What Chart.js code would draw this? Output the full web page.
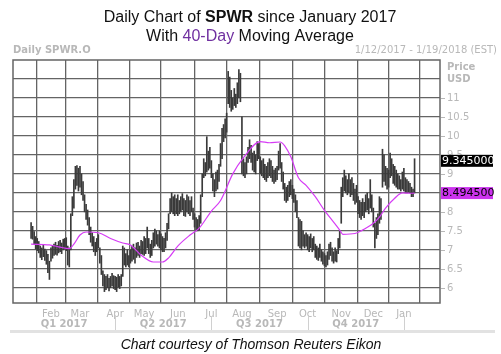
<!DOCTYPE html>
<html lang="en">
<head>
    <meta charset="UTF-8">
    <title>SPWR Daily Chart</title>
    <script src="https://cdn.jsdelivr.net/npm/chart.js"></script>
    <style>
        body { margin: 0; background: #fff; }
        #wrap { width: 501px; height: 354px; position: relative; }
    </style>
</head>
<body>
    <div id="wrap"><canvas id="spwrChart"></canvas></div>

    <script>
        // Month gridlines: trading-day index of the first session of each month (day 0 = 1/12/2017)
        const monthStarts = [13, 32, 55, 74, 96, 118, 138, 161, 181, 203, 224, 244];
        const monthLabels = ["Feb", "Mar", "Apr", "May", "Jun", "Jul", "Aug", "Sep", "Oct", "Nov", "Dec", "Jan"];
        const quarterBounds = [0, 55, 118, 181, 244];
        const quarterLabels = ["Q1 2017", "Q2 2017", "Q3 2017", "Q4 2017"];
        const priceTicks = [6, 6.5, 7, 7.5, 8, 8.5, 9, 9.5, 10, 10.5, 11];

        // Daily high / low, one entry per session
        const highs = [
            7.72, 7.62, 7.48, 7.35, 7.30, 7.22, 7.10, 7.05, 7.12, 7.02, 6.98, 6.88, 6.70,
            7.05, 7.10, 7.15, 7.20, 7.12, 7.22, 7.25, 7.18, 7.28, 7.30, 7.32, 7.10, 7.05, 7.95, 8.40, 8.85, 9.20, 9.22, 9.15,
            9.20, 9.00, 8.80, 8.45, 8.20, 8.05, 7.85, 7.60, 7.45, 7.35, 7.20, 7.30, 7.40, 7.05, 6.85, 6.45, 6.35, 6.30, 6.35, 6.25, 6.30, 6.38, 6.32,
            6.30, 6.28, 6.35, 6.30, 6.35, 7.10, 7.05, 6.90, 7.00, 6.85, 7.00, 7.10, 7.15, 7.05, 7.18, 7.20, 7.10, 7.25, 7.22,
            7.35, 7.30, 7.60, 7.30, 7.15, 7.25, 7.45, 7.55, 7.50, 7.40, 7.50, 7.42, 7.35, 7.30, 7.45, 7.70, 7.95, 8.35, 8.50, 8.40, 8.45, 8.35,
            8.45, 8.30, 8.40, 8.48, 8.35, 8.30, 8.45, 8.40, 8.30, 8.40, 8.10, 7.95, 7.85, 7.80, 7.90, 8.45, 9.00, 9.40, 9.30, 9.98, 9.60, 9.70,
            9.35, 9.00, 8.85, 9.05, 9.10, 9.25, 9.80, 10.20, 10.30, 10.45, 10.60, 11.70, 11.55, 11.20, 11.00, 11.25, 11.10, 11.40, 11.75, 11.65,
            10.50, 9.40, 9.30, 9.45, 9.70, 9.90, 9.75, 9.55, 9.60, 9.50, 9.85, 9.80, 9.45, 9.35, 9.40, 9.25, 9.20, 9.30, 9.40, 9.35, 9.20, 9.10, 9.15,
            9.20, 9.60, 9.80, 9.30, 9.05, 8.75, 8.65, 8.70, 8.80, 8.85, 8.70, 8.60, 8.45, 8.30, 7.85, 7.80, 7.75, 7.50, 7.40, 7.45,
            7.40, 7.35, 7.42, 7.30, 7.35, 7.15, 7.10, 7.05, 7.15, 7.00, 6.95, 6.90, 6.85, 6.95, 7.15, 7.20, 7.05, 6.95, 7.05, 6.98, 7.30, 7.50,
            8.65, 8.90, 9.10, 8.95, 8.85, 9.00, 8.85, 8.90, 8.75, 8.60, 8.70, 8.40, 8.30, 8.25, 8.35, 8.25, 8.45, 8.50, 8.35, 8.85, 8.45,
            8.10, 7.70, 7.85, 7.95, 8.40, 8.35, 9.65, 9.50, 9.20, 9.15, 9.10, 9.55, 9.40, 9.25, 9.20, 9.10, 9.00, 8.95, 8.85, 9.05,
            9.15, 8.90, 8.85, 8.80, 8.75, 8.65, 8.60, 9.40
        ];
        const lows = [
            7.30, 7.28, 7.15, 7.02, 6.98, 6.92, 6.80, 6.74, 6.82, 6.72, 6.62, 6.40, 6.22,
            6.70, 6.78, 6.85, 6.88, 6.86, 6.92, 6.95, 6.90, 7.00, 7.02, 6.98, 6.60, 6.55, 7.00, 7.90, 8.10, 8.60, 8.70, 8.55,
            8.65, 8.45, 8.30, 8.00, 7.80, 7.65, 7.40, 7.20, 7.10, 6.95, 6.85, 6.95, 7.05, 6.65, 6.35, 6.05, 5.90, 5.95, 6.00, 5.92, 6.00, 6.05, 5.98,
            5.95, 5.90, 6.02, 5.98, 6.05, 6.30, 6.60, 6.55, 6.60, 6.55, 6.65, 6.70, 6.75, 6.65, 6.80, 6.85, 6.80, 6.90, 6.88,
            6.85, 6.90, 7.05, 6.90, 6.80, 6.85, 7.05, 7.10, 7.15, 7.10, 7.05, 7.00, 6.95, 6.95, 7.05, 7.25, 7.55, 7.95, 8.00, 7.95, 7.90, 7.95,
            7.90, 7.95, 8.00, 8.05, 7.90, 7.88, 8.00, 7.95, 7.90, 8.00, 7.80, 7.60, 7.50, 7.50, 7.52, 7.70, 8.40, 8.90, 8.95, 9.05, 9.10, 9.15,
            8.90, 8.55, 8.40, 8.55, 8.60, 8.80, 9.20, 9.40, 9.85, 9.95, 10.10, 10.85, 10.75, 10.65, 10.70, 10.80, 10.75, 10.85, 11.00, 10.90,
            9.00, 8.95, 8.90, 9.00, 9.30, 9.40, 9.30, 9.10, 9.05, 9.00, 9.35, 9.40, 9.00, 8.95, 8.90, 8.85, 8.80, 8.90, 8.95, 8.90, 8.80, 8.75, 8.80,
            8.85, 9.10, 9.15, 8.80, 8.60, 8.30, 8.25, 8.30, 8.40, 8.45, 8.35, 8.25, 8.00, 7.85, 7.10, 7.05, 7.00, 7.10, 7.05, 7.10,
            7.00, 6.95, 7.05, 6.95, 7.00, 6.80, 6.75, 6.72, 6.80, 6.70, 6.62, 6.58, 6.55, 6.60, 6.75, 6.85, 6.70, 6.65, 6.70, 6.68, 6.90, 7.05,
            7.70, 8.40, 8.55, 8.50, 8.45, 8.50, 8.40, 8.45, 8.30, 8.20, 8.25, 7.95, 7.85, 7.80, 7.90, 7.85, 8.00, 8.05, 7.95, 8.10, 8.00,
            7.60, 7.05, 7.30, 7.40, 7.70, 7.80, 8.65, 8.80, 8.70, 8.60, 8.65, 8.90, 8.95, 8.75, 8.70, 8.65, 8.60, 8.60, 8.55, 8.60,
            8.55, 8.50, 8.50, 8.52, 8.50, 8.40, 8.40, 8.50
        ];

        // 40-day moving average, read at these sessions
        const maDays = [0, 12, 18, 25, 28, 32, 36, 44, 52, 60, 65, 72, 80, 86, 90, 96, 104, 110, 118, 124, 132, 139, 150, 156, 163, 166, 170, 175, 180, 186, 192, 198, 202, 204, 212, 216, 224, 228, 232, 238, 243, 250, 251];
        const maValues = [7.15, 7.13, 7.08, 7.03, 7.15, 7.39, 7.47, 7.45, 7.30, 7.18, 7.13, 6.86, 6.68, 6.68, 6.79, 7.10, 7.39, 7.57, 8.02, 8.30, 9.00, 9.43, 9.85, 9.82, 9.84, 9.74, 9.45, 8.90, 8.70, 8.40, 8.04, 7.73, 7.52, 7.41, 7.43, 7.50, 7.70, 7.86, 8.10, 8.36, 8.50, 8.49, 8.4945];

        const lastClose = 9.345;
        const lastMA = 8.4945;

        const barData = highs.map((h, i) => ({ x: i, y: [lows[i], h] }));
        const maData = maDays.map((d, i) => ({ x: d, y: maValues[i] }));

        const labelGray = "#b8b8b8";
        const gridGray = "#646464";

        const decorations = {
            id: "decorations",
            beforeDraw(chart) {
                const c = chart.ctx;
                c.save();
                c.fillStyle = "#fff";
                c.fillRect(0, 0, chart.width, chart.height);
                c.restore();
            },
            afterDraw(chart) {
                const c = chart.ctx;
                const area = chart.chartArea;
                const xs = chart.scales.x;
                const ys = chart.scales.y;
                c.save();

                // plot frame
                c.strokeStyle = gridGray;
                c.lineWidth = 1.5;
                c.strokeRect(area.left, area.top, area.right - area.left, area.bottom - area.top);

                // title, two lines
                c.textBaseline = "alphabetic";
                c.fillStyle = "#111";
                const t1 = ["Daily Chart of ", "SPWR", " since January 2017"];
                const f1 = ["16px 'Liberation Sans'", "bold 16px 'Liberation Sans'", "16px 'Liberation Sans'"];
                let w = 0;
                t1.forEach((s, k) => { c.font = f1[k]; w += c.measureText(s).width; });
                let px = 250 - w / 2;
                t1.forEach((s, k) => { c.font = f1[k]; c.fillText(s, px, 22); px += c.measureText(s).width; });

                const t2 = ["With ", "40-Day", " Moving Average"];
                const col2 = ["#111", "#7030a0", "#111"];
                c.font = "16px 'Liberation Sans'";
                w = t2.reduce((a, s) => a + c.measureText(s).width, 0);
                px = 250 - w / 2;
                t2.forEach((s, k) => { c.fillStyle = col2[k]; c.fillText(s, px, 41); px += c.measureText(s).width; });

                // header texts
                c.fillStyle = labelGray;
                c.font = "bold 10px 'DejaVu Sans'";
                c.textAlign = "left";
                c.fillText("Daily SPWR.O", 13, 53);
                c.font = "10px 'DejaVu Sans'";
                c.textAlign = "right";
                c.fillText("1/12/2017 - 1/19/2018 (EST)", 497, 53);

                // right price axis
                c.textAlign = "left";
                c.font = "bold 10px 'DejaVu Sans'";
                c.fillText("Price", 447, 70);
                c.fillText("USD", 447, 82);
                c.font = "10px 'DejaVu Sans'";
                c.textBaseline = "middle";
                c.strokeStyle = labelGray;
                c.lineWidth = 1;
                priceTicks.forEach(v => {
                    const y = Math.round(ys.getPixelForValue(v)) + 0.5;
                    c.beginPath();
                    c.moveTo(area.right + 1, y);
                    c.lineTo(area.right + 5, y);
                    c.stroke();
                    c.fillText(String(v), 447, y);
                });

                // last value boxes
                const yc = ys.getPixelForValue(lastClose);
                c.fillStyle = "#000";
                c.fillRect(area.right + 1, yc - 6, 52, 12);
                c.fillStyle = "#fff";
                c.font = "11px 'DejaVu Sans'";
                c.fillText(lastClose.toFixed(6), area.right + 2, yc + 0.5);

                const ym = ys.getPixelForValue(lastMA);
                c.fillStyle = "#cc33ee";
                c.fillRect(area.right + 1, ym - 6, 52, 12);
                c.fillStyle = "#000";
                c.fillText(lastMA.toFixed(6), area.right + 2, ym + 0.5);

                // month labels
                c.fillStyle = labelGray;
                c.font = "10px 'DejaVu Sans'";
                c.textAlign = "center";
                c.textBaseline = "alphabetic";
                monthStarts.forEach((d, k) => {
                    c.fillText(monthLabels[k], xs.getPixelForValue(d), 317);
                });

                // quarter labels and separators
                c.font = "bold 10px 'DejaVu Sans'";
                for (let k = 0; k < quarterLabels.length; k++) {
                    const a = k === 0 ? area.left : xs.getPixelForValue(quarterBounds[k]);
                    const b = xs.getPixelForValue(quarterBounds[k + 1]);
                    c.fillText(quarterLabels[k], (a + b) / 2, 327);
                }
                c.strokeStyle = "#d0d0d0";
                for (let k = 1; k < quarterBounds.length; k++) {
                    const x = Math.round(xs.getPixelForValue(quarterBounds[k])) + 0.5;
                    c.beginPath();
                    c.moveTo(x, 316);
                    c.lineTo(x, 330);
                    c.stroke();
                }

                // separator band
                c.fillStyle = "#e2e2e2";
                c.fillRect(10, 330, 485, 3);

                // caption
                c.fillStyle = "#111";
                c.font = "italic 14px 'Liberation Sans'";
                c.textAlign = "center";
                c.fillText("Chart courtesy of Thomson Reuters Eikon", 251, 349);
                c.restore();
            }
        };

        const ctx = document.getElementById("spwrChart").getContext("2d");
        new Chart(ctx, {
            data: {
                datasets: [
                    {
                        type: "line",
                        label: "40-Day MA",
                        data: maData,
                        borderColor: "#d63cf5",
                        borderWidth: 1.2,
                        pointRadius: 0,
                        cubicInterpolationMode: "monotone",
                        order: 0
                    },
                    {
                        type: "bar",
                        label: "SPWR",
                        data: barData,
                        backgroundColor: "#3a3a3a",
                        barThickness: 1,
                        grouped: false,
                        order: 1
                    }
                ]
            },
            plugins: [decorations],
            options: {
                responsive: true,
                maintainAspectRatio: false,
                animation: false,
                layout: { padding: { left: 13, right: 61, top: 60, bottom: 51 } },
                plugins: {
                    legend: { display: false },
                    tooltip: { enabled: false }
                },
                scales: {
                    x: {
                        type: "linear",
                        min: -0.2,
                        max: 256,
                        afterBuildTicks: s => { s.ticks = monthStarts.map(v => ({ value: v })); },
                        ticks: { display: false },
                        grid: { color: gridGray, lineWidth: 1.3, drawTicks: false },
                        border: { display: false }
                    },
                    y: {
                        min: 5.6,
                        max: 12,
                        afterBuildTicks: s => { s.ticks = priceTicks.concat([11.5]).map(v => ({ value: v })); },
                        ticks: { display: false },
                        grid: { color: gridGray, lineWidth: 1.3, drawTicks: false },
                        border: { display: false }
                    }
                }
            }
        });
    </script>
</body>
</html>
